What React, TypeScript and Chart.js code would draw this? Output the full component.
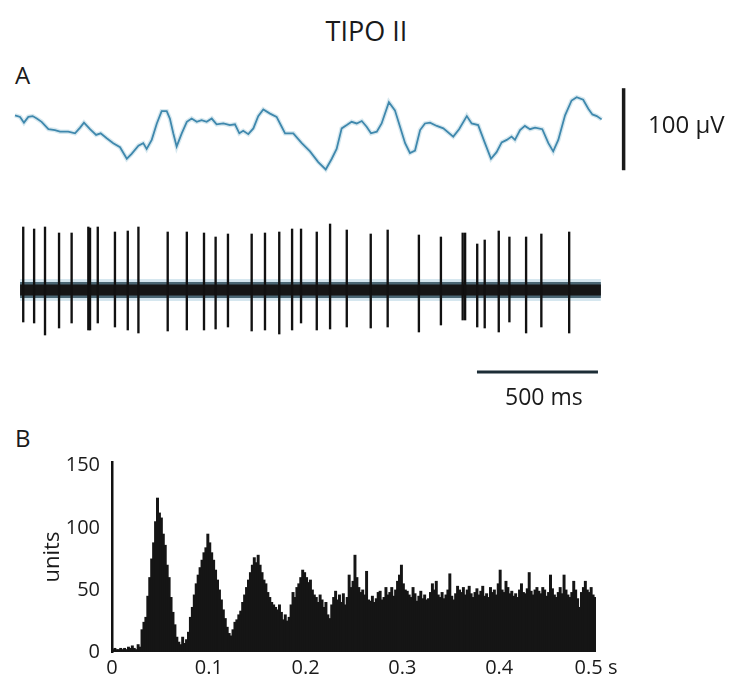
import React, { useEffect, useRef } from "react";
import { Chart, registerables } from "chart.js";

Chart.register(...registerables);

const FONT = "'Open Sans', 'Noto Sans', sans-serif";
const INK = "#1a1a1a";

// ---------- Panel A, top: field potential (time in ms, amplitude in µV) ----------
const lfpTimeMs = [
  0, 21, 37, 55, 73, 90, 110, 138, 165, 186,
  220, 248, 269, 285, 310, 335, 354, 379, 406, 434,
  462, 482, 510, 530, 544, 565, 586, 606, 627, 640,
  654, 668, 689, 710, 730, 751, 771, 792, 813, 833,
  861, 888, 909, 927, 943, 964, 985, 1005, 1026, 1054,
  1081, 1102, 1116, 1150, 1185, 1219, 1253, 1284, 1309, 1329,
  1350, 1371, 1391, 1412, 1433, 1453, 1471, 1495, 1515, 1545,
  1570, 1591, 1612, 1632, 1653, 1674, 1694, 1715, 1743, 1770,
  1811, 1835, 1867, 1887, 1914, 1942, 1967, 1990, 2011, 2032,
  2052, 2066, 2087, 2107, 2128, 2149, 2179, 2204, 2224, 2245,
  2273, 2300, 2321, 2348, 2369, 2386, 2404, 2424,
];
const lfpMicroV = [
  17, 15, 8, 15, 16, 13, 9, 0, -1, -3,
  -3, -5, 2, 8, 0, -7, -5, -11, -17, -22,
  -36, -30, -20, -17, -24, -13, 7, 22, 22, 13,
  -5, -21, -5, 9, 13, 9, 11, 9, 13, 6,
  7, 5, 6, -5, -2, -6, 1, 16, 24, 19,
  15, 3, -5, -5, -17, -27, -40, -49, -36, -24,
  1, 5, 9, 7, 10, 3, -5, -3, 7, 33,
  23, 3, -17, -29, -26, -1, 7, 8, 4, 1,
  -9, 0, 16, 7, 5, -17, -36, -28, -16, -13,
  -9, -13, -1, 4, 0, 2, 0, -17, -27, -13,
  17, 35, 39, 36, 25, 18, 16, 12,
];
const voltBarTimeMs = 2515;
const voltBarMicroV = [-50, 50];
const voltBarLabel = "100 \u00B5V";

// ---------- Panel A, bottom: unit spikes ----------
const spikeTimesMs = [
  34, 79, 124, 182, 234, 303, 310, 342, 413, 466,
  510, 631, 710, 781, 829, 880, 978, 1033, 1092, 1145,
  1182, 1247, 1302, 1371, 1470, 1540, 1669, 1760, 1850, 1860,
  1910, 1941, 1999, 2043, 2112, 2175, 2290,
];
const spikeTops = [
  63, 61, 63, 57, 57, 63, 62, 63, 58, 59,
  63, 58, 58, 57, 53, 56, 56, 57, 58, 61,
  61, 58, 66, 60, 56, 60, 55, 53, 57, 57,
  46, 50, 59, 53, 53, 56, 58,
];
const spikeBottoms = [
  -32, -33, -45, -38, -33, -40, -40, -33, -37, -40,
  -43, -41, -40, -40, -39, -37, -41, -40, -44, -40,
  -33, -40, -39, -37, -38, -37, -42, -35, -30, -30,
  -37, -38, -42, -32, -43, -37, -43,
];
const recordingSpanMs = [21, 2421];
const timeBarMs = [1909, 2409];
const timeBarLevel = -82;
const timeBarLabel = "500 ms";

// ---------- Panel B: autocorrelogram ----------
const binWidthS = 0.002;
const binCounts = [
  2, 3, 2, 2, 3, 2, 3, 2, 4, 3,
  5, 3, 2, 6, 4, 18, 24, 28, 45, 60,
  75, 88, 105, 124, 112, 108, 95, 86, 70, 60,
  44, 32, 22, 12, 8, 6, 12, 7, 10, 16,
  28, 36, 46, 55, 62, 68, 74, 80, 84, 95,
  88, 80, 74, 66, 58, 50, 42, 34, 27, 20,
  15, 13, 18, 24, 26, 30, 33, 40, 46, 52,
  58, 64, 70, 76, 72, 78, 70, 64, 58, 55,
  48, 44, 40, 38, 36, 34, 38, 32, 26, 30,
  25, 28, 38, 48, 44, 52, 55, 60, 66, 64,
  60, 56, 58, 50, 46, 44, 40, 46, 42, 36,
  40, 30, 27, 38, 44, 49, 42, 46, 40, 47,
  38, 44, 62, 52, 57, 78, 60, 52, 48, 50,
  46, 65, 42, 41, 45, 40, 43, 48, 49, 42,
  44, 52, 46, 48, 52, 45, 50, 57, 62, 70,
  55, 50, 49, 46, 44, 52, 47, 41, 45, 49,
  43, 46, 42, 43, 48, 55, 50, 57, 46, 44,
  48, 43, 46, 50, 63, 45, 42, 47, 53, 50,
  48, 52, 46, 50, 53, 47, 44, 48, 51, 46,
  49, 53, 45, 47, 44, 52, 48, 50, 46, 55,
  66, 50, 48, 57, 52, 47, 49, 45, 47, 44,
  50, 55, 48, 47, 51, 64, 49, 46, 50, 52,
  49, 47, 52, 50, 45, 48, 62, 51, 46, 44,
  48, 52, 47, 62, 50, 46, 44, 48, 57, 50,
  43, 36, 48, 52, 57, 50, 48, 52, 46, 44,
];
const xTickValues = [0, 0.1, 0.2, 0.3, 0.4, 0.5];
const xTickLabels = ["0", "0.1", "0.2", "0.3", "0.4", "0.5 s"];
const yTickValues = [0, 50, 100, 150];
const yTickLabels = ["0", "50", "100", "150"];
const yAxisTitle = "units";

const title = "TIPO II";
const panelLabels = ["A", "B"];

function useChart(ref: React.RefObject<HTMLCanvasElement | null>, make: () => any) {
  useEffect(() => {
    if (!ref.current) return;
    const chart = new Chart(ref.current, make());
    return () => chart.destroy();
  }, []);
}

const baseOptions = {
  responsive: false,
  animation: false,
  events: [],
  plugins: { legend: { display: false }, tooltip: { enabled: false } },
};

// shared time mapping for panel A (ms)
const A_TIME_MIN = -62;
const A_TIME_MAX = 2967;

function LfpChart() {
  const ref = useRef<HTMLCanvasElement>(null);
  useChart(ref, () => ({
    type: "line",
    data: {
      datasets: [
        {
          data: lfpTimeMs.map((t, i) => ({ x: t, y: lfpMicroV[i] })),
          borderColor: "#3f88ad",
          borderWidth: 1.8,
          pointRadius: 0,
          tension: 0,
          order: 1,
        },
        {
          data: lfpTimeMs.map((t, i) => ({ x: t, y: lfpMicroV[i] })),
          borderColor: "rgba(140,190,210,0.35)",
          borderWidth: 4.5,
          pointRadius: 0,
          tension: 0,
          order: 2,
        },
        {
          data: voltBarMicroV.map((v) => ({ x: voltBarTimeMs, y: v })),
          borderColor: INK,
          borderWidth: 3.5,
          borderCapStyle: "butt",
          pointRadius: 0,
          order: 0,
        },
      ],
    },
    options: {
      ...baseOptions,
      layout: { padding: 0 },
      scales: {
        x: { type: "linear", display: false, min: A_TIME_MIN, max: A_TIME_MAX },
        y: { type: "linear", display: false, min: -68, max: 60 },
      },
    },
  }));
  return (
    <canvas
      ref={ref}
      width={733}
      height={105}
      style={{ position: "absolute", left: 0, top: 80 }}
    />
  );
}

function SpikeChart() {
  const ref = useRef<HTMLCanvasElement>(null);
  useChart(ref, () => ({
    type: "line",
    data: {
      datasets: [
        {
          type: "bar",
          data: spikeTimesMs.map((t, i) => ({ x: t, y: [spikeBottoms[i], spikeTops[i]] })),
          backgroundColor: "#111111",
          barThickness: 1.7,
          borderWidth: 0,
          order: 0,
        },
        {
          data: timeBarMs.map((t) => ({ x: t, y: timeBarLevel })),
          borderColor: "#1c2d36",
          borderWidth: 3,
          borderCapStyle: "butt",
          pointRadius: 0,
          order: 0,
        },
        {
          data: recordingSpanMs.map((t) => ({ x: t, y: 0 })),
          borderColor: "#161616",
          borderWidth: 11,
          borderCapStyle: "butt",
          pointRadius: 0,
          order: 1,
        },
        {
          data: recordingSpanMs.map((t) => ({ x: t, y: 0 })),
          borderColor: "rgba(30,60,75,0.75)",
          borderWidth: 16,
          borderCapStyle: "butt",
          pointRadius: 0,
          order: 2,
        },
        {
          data: recordingSpanMs.map((t) => ({ x: t, y: 0 })),
          borderColor: "rgba(90,160,190,0.25)",
          borderWidth: 22,
          borderCapStyle: "butt",
          pointRadius: 0,
          order: 3,
        },
      ],
    },
    options: {
      ...baseOptions,
      layout: { padding: 0 },
      scales: {
        x: { type: "linear", display: false, min: A_TIME_MIN, max: A_TIME_MAX, offset: false },
        y: { type: "linear", display: false, min: -95, max: 75 },
      },
    },
  }));
  return (
    <canvas
      ref={ref}
      width={733}
      height={170}
      style={{ position: "absolute", left: 0, top: 215 }}
    />
  );
}

function HistChart() {
  const ref = useRef<HTMLCanvasElement>(null);
  useChart(ref, () => ({
    type: "bar",
    data: {
      datasets: [
        {
          data: binCounts.map((c, i) => ({ x: (i + 0.5) * binWidthS, y: c })),
          backgroundColor: "#151515",
          barThickness: 2.3,
          borderWidth: 0,
        },
      ],
    },
    options: {
      ...baseOptions,
      layout: { padding: { top: 32, right: 137, left: 0, bottom: 0 } },
      scales: {
        x: {
          type: "linear",
          min: 0,
          max: 0.5,
          offset: false,
          grid: { display: false, drawTicks: false, offset: false },
          border: { display: false },
          afterBuildTicks: (s: any) => {
            s.ticks = xTickValues.map((v) => ({ value: v }));
          },
          afterFit: (s: any) => {
            s.height = 32;
          },
          ticks: {
            autoSkip: false,
            maxRotation: 0,
            padding: 4,
            color: INK,
            font: { family: FONT, size: 20 },
            callback: (_v: any, i: number) => xTickLabels[i],
          },
        },
        y: {
          type: "linear",
          min: 0,
          max: 153,
          grid: { display: false, drawTicks: false },
          border: { display: true, color: "#111111", width: 2.5 },
          afterBuildTicks: (s: any) => {
            s.ticks = yTickValues.map((v) => ({ value: v }));
          },
          afterFit: (s: any) => {
            s.width = 112;
          },
          ticks: {
            padding: 12,
            color: INK,
            font: { family: FONT, size: 20 },
            callback: (_v: any, i: number) => yTickLabels[i],
          },
          title: {
            display: true,
            text: yAxisTitle,
            color: INK,
            font: { family: FONT, size: 22 },
            padding: { top: 40, bottom: 0 },
          },
        },
      },
    },
  }));
  return (
    <canvas
      ref={ref}
      width={733}
      height={254}
      style={{ position: "absolute", left: 0, top: 430 }}
    />
  );
}

const textStyle = (left: number, top: number, size: number): React.CSSProperties => ({
  position: "absolute",
  left,
  top,
  fontFamily: FONT,
  fontSize: size,
  lineHeight: 1,
  color: INK,
  whiteSpace: "nowrap",
});

export default function App() {
  return (
    <div
      style={{
        position: "absolute",
        left: 0,
        top: 0,
        width: 733,
        height: 684,
        background: "#ffffff",
        overflow: "hidden",
      }}
    >
      <div style={{ ...textStyle(0, 17, 27), width: 733, textAlign: "center" }}>{title}</div>
      <div style={textStyle(15, 63, 24)}>{panelLabels[0]}</div>
      <div style={textStyle(15, 426, 24)}>{panelLabels[1]}</div>
      <LfpChart />
      <div style={textStyle(648, 112, 24)}>{voltBarLabel}</div>
      <SpikeChart />
      <div style={textStyle(505, 385, 23)}>{timeBarLabel}</div>
      <HistChart />
    </div>
  );
}
